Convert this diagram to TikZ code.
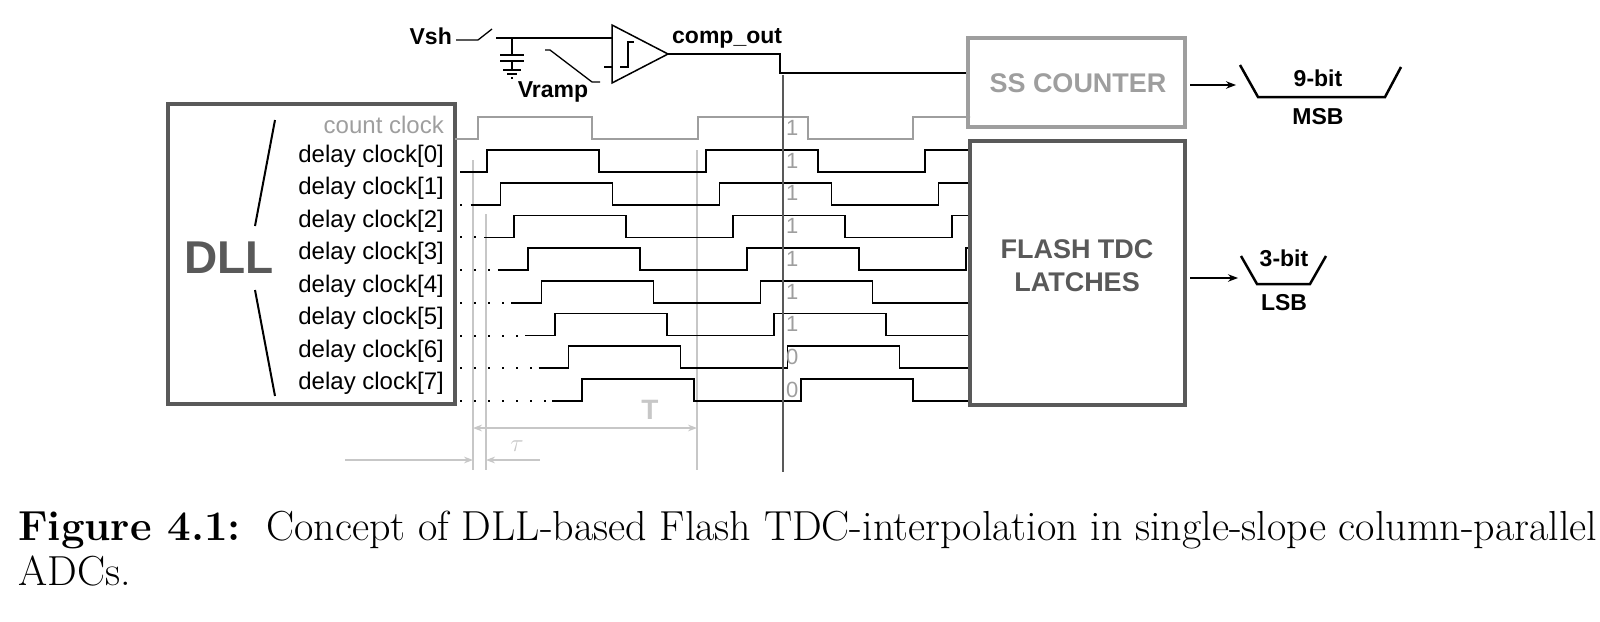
\documentclass[tikz,border=0pt]{standalone}
\usepackage{fontspec}
\newfontfamily\dsf{Liberation Sans}
\usetikzlibrary{arrows.meta}
\definecolor{dg}{gray}{0.35}
\definecolor{lg}{gray}{0.62}
\definecolor{vlg}{gray}{0.78}
\begin{document}
\begin{tikzpicture}[x=1pt,y=-1pt,
  lab/.style={font=\dsf\fontsize{24}{24}\selectfont,anchor=east,inner sep=0},
  wave/.style={line width=1.6pt},
  bigbox/.style={line width=3.5pt},
  bold/.style={font=\dsf\bfseries\fontsize{23}{23}\selectfont,inner sep=0}]
\useasboundingbox (0,0) rectangle (1600,621);
% comparator
\node[bold,anchor=east] (vsh) at (452,36) {Vsh};
\draw[line width=1.3pt] (456,40) -- (478,40) -- (492,29);
\draw[line width=1.3pt] (496,38) -- (612,38);
\draw[line width=1.3pt] (512,38) -- (512,55) (500,55) -- (524,55) (500,61) -- (524,61) (512,61)--(512,70) (503,70)--(521,70) (507,74)--(517,74) (511,78)--(513,78);
\draw[line width=1.3pt] (545,50) -- (550,50) -- (592,82) -- (600,82);
\node[bold] (vramp) at (553,92) {Vramp};
\draw[line width=1.3pt] (604,67) -- (612,67);
\draw[line width=1.5pt] (612,25) -- (612,83) -- (668,54) -- cycle;
\draw[line width=1.3pt] (620,67) -- (628,67) -- (628,42) -- (634,42);
\node[bold,anchor=west] (co) at (672,38) {comp\_out};
\draw[line width=1.3pt] (668,54) -- (780,54) -- (780,73) -- (968,73);
% DLL
\draw[bigbox,dg] (168,104) rectangle (455,404);
\node[font=\dsf\bfseries\fontsize{46}{46}\selectfont,text=dg] (dll) at (229,258) {DLL};
\draw[line width=2pt] (275,120) -- (255,226) (255,290) -- (275,396);
\node[lab,text=lg] (cc) at (444,125) {count clock};
\foreach \i in {0,...,7}{
  \node[lab] (d\i) at (444,{156+32.5*\i}) {delay clock[\i]};
}
% grey guide lines
\draw[vlg,line width=1.2pt] (473,160) -- (473,470) (486,214) -- (486,470) (697,150) -- (697,470);
\draw[vlg,line width=1.2pt,{Stealth[length=9pt]}-{Stealth[length=9pt]}] (473,428) -- (697,428);
\node[font=\dsf\bfseries\fontsize{28}{28}\selectfont,text=vlg] (T) at (650,410) {T};
\draw[vlg,line width=1.2pt,-{Stealth[length=9pt]}] (345,460) -- (473,460);
\draw[vlg,line width=1.2pt,-{Stealth[length=9pt]}] (540,460) -- (486,460);
\node[text=vlg,font=\fontsize{28}{28}\selectfont] (tau) at (517,446) {$\tau$};
% waveforms
\begin{scope}
\clip (455,100) rectangle (970,420);
\draw[lg,wave] (455,139) -- (478,139) -- (478,117) -- (592,117) -- (592,139) -- (698,139) -- (698,117) -- (808,117) -- (808,139) -- (913,139) -- (913,117) -- (975,117);
\foreach \i in {0,...,7}{
  \pgfmathsetmacro\yl{172+32.7*\i}
  \pgfmathsetmacro\yh{\yl-22}
  \pgfmathsetmacro\r{487+13.6*\i}
  \pgfmathsetmacro\s{\i==0 ? 460 : \r-30}
  \draw[wave] (\s,\yl) -- (\r,\yl) -- (\r,\yh) -- ({\r+112},\yh) -- ({\r+112},\yl) -- ({\r+219},\yl) -- ({\r+219},\yh) -- ({\r+331},\yh) -- ({\r+331},\yl) -- ({\r+438},\yl) -- ({\r+438},\yh) -- ({\r+550},\yh);
  \ifnum\i>0
  \draw[line width=2pt,dash pattern=on 2pt off 12pt] (460,\yl) -- ({\s-4},\yl);
  \fi
}
\end{scope}
\draw[dg,line width=2pt] (783,75) -- (783,472);
\foreach \v [count=\k from 0] in {1,1,1,1,1,1,1,0,0}{
  \node[font=\dsf\fontsize{22}{22}\selectfont,text=lg,anchor=west,inner sep=0] (v\k) at (786,{128+32.7*\k}) {\v};
}
% boxes
\draw[bigbox,lg] (968,38) rectangle (1185,127);
\node[font=\dsf\bfseries\fontsize{27}{27}\selectfont,text=lg] (ss) at (1078,83) {SS COUNTER};
\draw[bigbox,dg] (970,141) rectangle (1185,405);
\node[font=\dsf\bfseries\fontsize{27}{27}\selectfont,text=dg,align=center] (fl) at (1077,266) {FLASH TDC\\[6pt]LATCHES};
\coordinate (a1) at (1190,85); \coordinate (b1) at (1236,85);
\coordinate (a2) at (1190,278); \coordinate (b2) at (1238,278);
\draw[line width=1.3pt,-{Stealth[length=10pt]}] (a1) -- (b1);
\draw[line width=1.3pt,-{Stealth[length=10pt]}] (a2) -- (b2);
\draw[line width=2.5pt] (1240,65) -- (1258,97) -- (1385,97) -- (1401,67);
\node[bold] (m9) at (1318,78) {9-bit};
\node[bold] (msb) at (1318,117) {MSB};
\draw[line width=2.5pt] (1241,256) -- (1257,284) -- (1310,284) -- (1326,256);
\node[bold] (l3) at (1284,258) {3-bit};
\node[bold] (lsb) at (1284,303) {LSB};
% caption
\node[anchor=west,inner sep=0,font=\fontsize{42}{42}\selectfont] (cap1) at (18,530) {\textbf{Figure 4.1:}\ \ Concept of DLL-based Flash TDC-interpolation in single-slope column-parallel};
\node[anchor=west,inner sep=0,font=\fontsize{42}{42}\selectfont] (cap2) at (18,571) {ADCs.};
\end{tikzpicture}
\end{document}
